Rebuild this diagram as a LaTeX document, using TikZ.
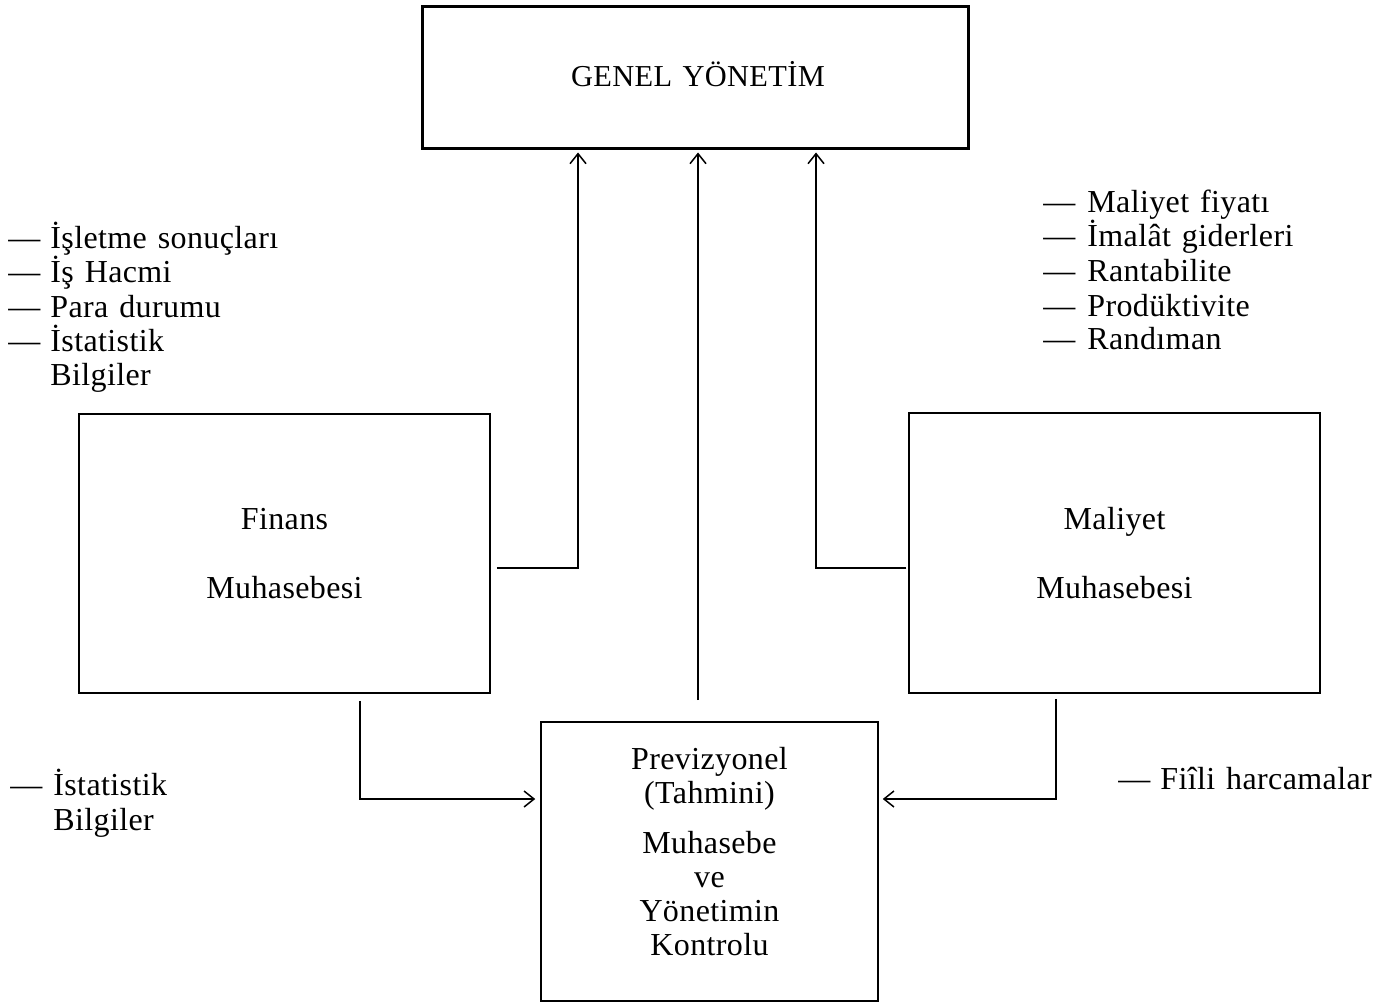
\documentclass[tikz,border=0pt]{standalone}
\usepackage{fontspec}
\setmainfont{Liberation Serif}[Ligatures=NoCommon, WordSpace=1.3, LetterSpace=1.2]
\usetikzlibrary{arrows.meta}
\newcommand{\mydash}[1]{\makebox[#1][l]{—}}
\tikzset{
  heavybox/.style={draw, line width=1.5pt, inner sep=0pt},
  lightbox/.style={draw, line width=0.75pt, inner sep=0pt, align=center,
    font=\fontsize{16}{34.5}\selectfont},
  arr/.style={line width=0.75pt, -{Straight Barb[length=5pt,width=8pt,line width=0.75pt]}},
  lbl/.style={anchor=base west, inner sep=0pt, font=\fontsize{16}{17}\selectfont},
  ctext/.style={inner sep=0pt, align=center, font=\fontsize{16}{17}\selectfont},
}
\begin{document}
\begin{tikzpicture}[x=0.5pt,y=-0.5pt]
\useasboundingbox (0,0) rectangle (1394,1006);

% boxes
\node[heavybox, minimum width=273pt, minimum height=71pt] (top) at (695,78) {};
\node[anchor=base, inner sep=0pt, font=\fontsize{15.2}{17}\selectfont] (gy) at (698,87) {GENEL YÖNETİM};

\node[lightbox, minimum width=205.5pt, minimum height=139.5pt] (finans) at (284.5,553.5) {Finans\\Muhasebesi};
\node[lightbox, minimum width=205.5pt, minimum height=140pt] (maliyet) at (1114.5,553) {Maliyet\\Muhasebesi};
\node[draw, line width=0.75pt, inner sep=0pt, minimum width=168.5pt, minimum height=139.5pt] (prev) at (709.5,861.5) {};
\node[ctext] (prevtxt) at (709.5,851.5) {Previzyonel\\(Tahmini)\\[8pt]Muhasebe\\ve\\Yönetimin\\Kontrolu};

% connector junctions
\coordinate (jL) at (578,568);
\coordinate (jR) at (816,568);
\coordinate (cS) at (698,700);
\coordinate (kL) at (360,799);
\coordinate (kR) at (1056,799);

% connectors
\draw[arr, shorten <=3pt, shorten >=1pt] (finans.east |- jL) -- (jL) -- (jL |- top.south);
\draw[arr, shorten >=1pt] (cS) -- (cS |- top.south);
\draw[arr, shorten <=1pt, shorten >=1pt] (maliyet.west |- jR) -- (jR) -- (jR |- top.south);
\draw[arr, shorten <=3.5pt, shorten >=2.5pt] (finans.south -| kL) -- (kL) -- (prev.west |- kL);
\draw[arr, shorten <=2.5pt, shorten >=2pt] (maliyet.south -| kR) -- (kR) -- (prev.east |- kR);

% left list
\node[lbl] (l1) at (8,249) {\mydash{21pt}İşletme sonuçları};
\node[lbl] (l2) at (8,283) {\mydash{21pt}İş Hacmi};
\node[lbl] (l3) at (8,317) {\mydash{21pt}Para durumu};
\node[lbl] (l4) at (8,351) {\mydash{21pt}İstatistik};
\node[lbl] (l5) at (50,386) {Bilgiler};

% right list
\node[lbl] (r1) at (1043,213) {\mydash{22pt}Maliyet fiyatı};
\node[lbl] (r2) at (1043,247) {\mydash{22pt}İmalât giderleri};
\node[lbl] (r3) at (1043,281) {\mydash{22pt}Rantabilite};
\node[lbl] (r4) at (1043,316) {\mydash{22pt}Prodüktivite};
\node[lbl] (r5) at (1043,350) {\mydash{22pt}Randıman};

% bottom labels
\node[lbl] (b1) at (10,795) {\mydash{21.5pt}İstatistik};
\node[lbl] (b2) at (53,830) {Bilgiler};
\node[lbl] (b3) at (1118,789) {\mydash{21pt}Fiîli harcamalar};
\end{tikzpicture}
\end{document}
